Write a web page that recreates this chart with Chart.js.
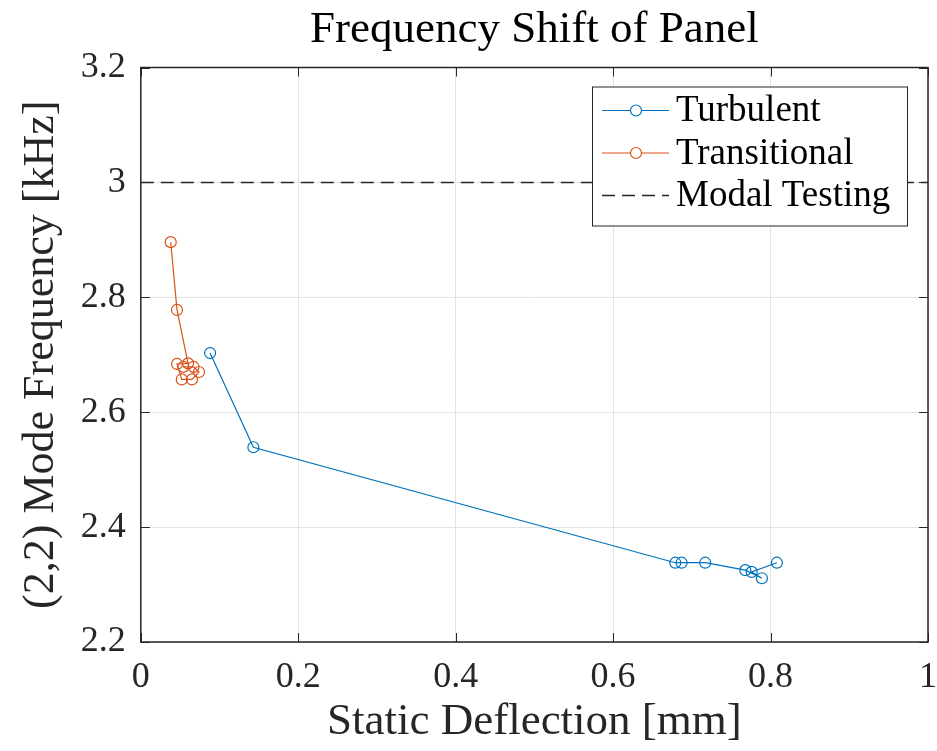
<!DOCTYPE html>
<html>
<head>
<meta charset="utf-8">
<title>Frequency Shift of Panel</title>
<script src="https://cdn.jsdelivr.net/npm/chart.js@4.4.1/dist/chart.umd.min.js"></script>
<style>
    html, body { margin: 0; padding: 0; background: #fff; }
    #wrap { width: 937px; height: 751px; }
</style>
</head>
<body>
<div id="wrap"><canvas id="freqChart" width="937" height="751"></canvas></div>
<script>
// values
const turbulentDeflection = [0.088, 0.143, 0.679, 0.687, 0.717, 0.768, 0.789, 0.776, 0.808];
const turbulentFreq = [2.703, 2.539, 2.338, 2.338, 2.338, 2.325, 2.311, 2.322, 2.338];

const transitionalDeflection = [0.038, 0.046, 0.060, 0.046, 0.052, 0.065, 0.074, 0.067, 0.054];
const transitionalFreq = [2.896, 2.778, 2.685, 2.684, 2.657, 2.657, 2.670, 2.679, 2.679];

const modalDeflection = [0, 1];
const modalFreq = [3, 3];

const xTicks = [0, 0.2, 0.4, 0.6, 0.8, 1];
const yTicks = [2.2, 2.4, 2.6, 2.8, 3, 3.2];

const serif = '"Liberation Serif", "DejaVu Serif", serif';
const axisColor = '#262626';

const toPoints = (xs, ys) => xs.map((v, i) => ({ x: v, y: ys[i] }));
const tickText = (value) => String(Number(Number(value).toFixed(1)));

// box, inward ticks and the legend, drawn the MATLAB way
const frameAndLegend = {
    id: 'frameAndLegend',
    afterDatasetsDraw(chart) {
        const { ctx, chartArea: a, scales: { x, y } } = chart;
        ctx.save();

        ctx.strokeStyle = axisColor;
        ctx.lineWidth = 1;
        ctx.beginPath();
        x.ticks.forEach(t => {
            const px = Math.round(x.getPixelForValue(t.value)) + 0.5;
            ctx.moveTo(px, a.bottom); ctx.lineTo(px, a.bottom - 9);
            ctx.moveTo(px, a.top); ctx.lineTo(px, a.top + 9);
        });
        y.ticks.forEach(t => {
            const py = Math.round(y.getPixelForValue(t.value)) + 0.5;
            ctx.moveTo(a.left, py); ctx.lineTo(a.left + 9, py);
            ctx.moveTo(a.right, py); ctx.lineTo(a.right - 9, py);
        });
        ctx.stroke();

        ctx.lineWidth = 1.5;
        ctx.strokeRect(a.left, a.top, a.right - a.left, a.bottom - a.top);

        // legend box
        const w = 315, h = 139;
        const lx = a.right - 21 - w;
        const ly = a.top + 19;
        ctx.fillStyle = '#fff';
        ctx.fillRect(lx, ly, w, h);
        ctx.lineWidth = 1;
        ctx.strokeStyle = axisColor;
        ctx.strokeRect(lx + 0.5, ly + 0.5, w, h);

        ctx.font = '37px ' + serif;
        ctx.textBaseline = 'middle';
        ctx.textAlign = 'left';
        chart.data.datasets.forEach((ds, i) => {
            const rowY = ly + 24 + i * 42.5;
            ctx.strokeStyle = ds.borderColor;
            ctx.lineWidth = ds.borderWidth;
            ctx.setLineDash(ds.borderDash || []);
            ctx.beginPath();
            ctx.moveTo(lx + 10, rowY);
            ctx.lineTo(lx + 77, rowY);
            ctx.stroke();
            ctx.setLineDash([]);
            if (ds.pointRadius > 0) {
                ctx.beginPath();
                ctx.arc(lx + 44, rowY, ds.pointRadius, 0, Math.PI * 2);
                ctx.fillStyle = '#fff';
                ctx.fill();
                ctx.stroke();
            }
            ctx.fillStyle = '#000';
            ctx.fillText(ds.label, lx + 84, rowY + 1);
        });

        ctx.restore();
    }
};

const ctx = document.getElementById('freqChart').getContext('2d');

new Chart(ctx, {
    type: 'scatter',
    data: {
        datasets: [
            {
                label: 'Turbulent',
                data: toPoints(turbulentDeflection, turbulentFreq),
                showLine: true,
                borderColor: '#0072BD',
                backgroundColor: 'rgba(0,0,0,0)',
                borderWidth: 1.2,
                pointRadius: 5.5,
                pointBorderWidth: 1.2,
                pointStyle: 'circle',
                tension: 0
            },
            {
                label: 'Transitional',
                data: toPoints(transitionalDeflection, transitionalFreq),
                showLine: true,
                borderColor: '#D95319',
                backgroundColor: 'rgba(0,0,0,0)',
                borderWidth: 1.2,
                pointRadius: 5.5,
                pointBorderWidth: 1.2,
                pointStyle: 'circle',
                tension: 0
            },
            {
                label: 'Modal Testing',
                data: toPoints(modalDeflection, modalFreq),
                showLine: true,
                borderColor: '#262626',
                backgroundColor: 'rgba(0,0,0,0)',
                borderWidth: 1.5,
                borderDash: [13, 7],
                pointRadius: 0,
                tension: 0
            }
        ]
    },
    options: {
        responsive: false,
        animation: false,
        layout: { padding: { top: 0, right: 9, bottom: 0, left: 0 } },
        plugins: {
            legend: { display: false },
            tooltip: { enabled: false },
            title: {
                display: true,
                fullSize: false,
                text: 'Frequency Shift of Panel',
                color: '#000',
                font: { family: serif, size: 45, weight: 'normal' },
                padding: { top: 3, bottom: 10.5 }
            }
        },
        scales: {
            x: {
                type: 'linear',
                min: 0,
                max: 1,
                afterFit: (scale) => {
                    scale.height = 109;
                    scale.paddingLeft = 0;
                    scale.paddingRight = 0;
                },
                afterBuildTicks: (scale) => { scale.ticks = xTicks.map(v => ({ value: v })); },
                border: { display: false },
                grid: { color: '#e3e3e3', lineWidth: 1, drawTicks: false },
                ticks: {
                    padding: 14,
                    color: axisColor,
                    font: { family: serif, size: 36 },
                    maxRotation: 0,
                    callback: tickText
                },
                title: {
                    display: true,
                    text: 'Static Deflection [mm]',
                    color: axisColor,
                    font: { family: serif, size: 45 },
                    padding: { top: 0, bottom: 2 }
                }
            },
            y: {
                type: 'linear',
                min: 2.2,
                max: 3.2,
                afterFit: (scale) => {
                    scale.width = 140.8;
                    scale.paddingTop = 0;
                    scale.paddingBottom = 0;
                },
                afterBuildTicks: (scale) => { scale.ticks = yTicks.map(v => ({ value: v })); },
                border: { display: false },
                grid: { color: '#e3e3e3', lineWidth: 1, drawTicks: false },
                ticks: {
                    padding: 15,
                    color: axisColor,
                    font: { family: serif, size: 36 },
                    callback: tickText
                },
                title: {
                    display: true,
                    text: '(2,2) Mode Frequency [kHz]',
                    color: axisColor,
                    font: { family: serif, size: 44 },
                    padding: { top: 15, bottom: 0 }
                }
            }
        }
    },
    plugins: [frameAndLegend]
});
</script>
</body>
</html>
